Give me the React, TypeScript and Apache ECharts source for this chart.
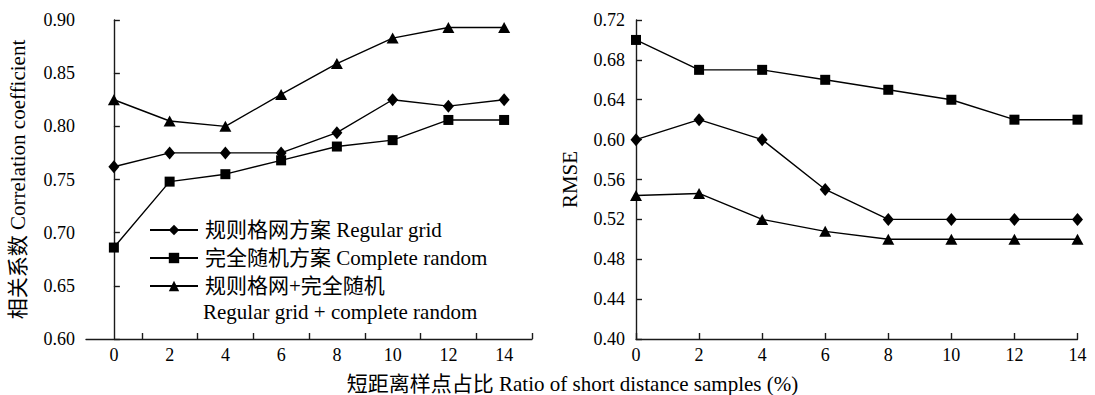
import React, { useEffect, useRef } from "react";
import * as echarts from "echarts";

const FONT = "'Liberation Serif', 'Times New Roman', 'Noto Sans CJK SC', serif";

const ratioValues = [0, 2, 4, 6, 8, 10, 12, 14];
const leftTickValues = [1, 3, 5, 7, 9, 11, 13, 15];

const seriesNames = ["规则格网方案 Regular grid", "完全随机方案 Complete random", "规则格网+完全随机"];
const thirdSeriesSecondLine = "Regular grid + complete random";

const corrRegular = [0.762, 0.775, 0.775, 0.775, 0.794, 0.825, 0.819, 0.825];
const corrRandom = [0.686, 0.748, 0.755, 0.768, 0.781, 0.787, 0.806, 0.806];
const corrCombined = [0.825, 0.805, 0.800, 0.830, 0.859, 0.883, 0.893, 0.893];

const rmseRegular = [0.6, 0.62, 0.6, 0.55, 0.52, 0.52, 0.52, 0.52];
const rmseRandom = [0.7, 0.67, 0.67, 0.66, 0.65, 0.64, 0.62, 0.62];
const rmseCombined = [0.544, 0.546, 0.52, 0.508, 0.5, 0.5, 0.5, 0.5];

const leftYTitle = "相关系数 Correlation coefficient";
const rightYTitle = "RMSE";
const xTitle = "短距离样点占比 Ratio of short distance samples (%)";

const symbols: [string, any][] = [
  ["diamond", [11, 13]],
  ["rect", 10],
  ["triangle", [12, 11]],
];

export default function App() {
  const ref = useRef<HTMLDivElement>(null);
  useEffect(() => {
    if (!ref.current) return;
    const chart = echarts.init(ref.current, null, { renderer: "svg" });
    const axisLine = { lineStyle: { color: "#1a1a1a", width: 1.4 } };
    const label = { color: "#000", fontFamily: FONT, fontSize: 18 };
    const titleStyle = { color: "#000", fontFamily: FONT, fontSize: 21 };
    const pair = (xs: number[], ys: number[]) => xs.map((x, i) => [x, ys[i]]);
    const mk = (name: string, data: number[], idx: number, k: number) => ({
      type: "line",
      name,
      xAxisIndex: idx,
      yAxisIndex: idx,
      data: pair(ratioValues, data),
      symbol: symbols[k][0],
      symbolSize: symbols[k][1],
      showSymbol: true,
      lineStyle: { color: "#000", width: 1.4 },
      itemStyle: { color: "#000" },
      emphasis: { disabled: true },
    });
    chart.setOption({
      animation: false,
      backgroundColor: "#fff",
      textStyle: { fontFamily: FONT },
      grid: [
        { left: 86, top: 20, width: 446, height: 319 },
        { left: 636, top: 20, width: 441.5, height: 319 },
      ],
      legend: {
        orient: "vertical",
        left: 144,
        top: 213,
        itemWidth: 48,
        itemHeight: 13,
        itemGap: 4,
        data: seriesNames,
        textStyle: { color: "#000", fontFamily: FONT, fontSize: 21, lineHeight: 24, padding: [0, 0, 0, 2] },
        selectedMode: false,
      },
      xAxis: [
        {
          type: "value",
          gridIndex: 0,
          min: -1,
          max: 15,
          interval: 1,
          splitLine: { show: false },
          axisLine,
          axisTick: { inside: true, length: 6, lineStyle: { color: "#1a1a1a", width: 1.4 }, customValues: leftTickValues },
          axisLabel: { ...label, margin: 7, customValues: ratioValues },
        },
        {
          type: "value",
          gridIndex: 1,
          min: 0,
          max: 14,
          interval: 2,
          splitLine: { show: false },
          axisLine,
          axisTick: { inside: true, length: 6, lineStyle: { color: "#1a1a1a", width: 1.4 } },
          axisLabel: { ...label, margin: 7 },
        },
      ],
      yAxis: [
        {
          type: "value",
          gridIndex: 0,
          min: 0.6,
          max: 0.9,
          interval: 0.05,
          splitLine: { show: false },
          axisLine: { show: true, ...axisLine },
          axisTick: { show: true, inside: true, length: 6, lineStyle: { color: "#1a1a1a", width: 1.4 } },
          axisLabel: { ...label, margin: 11, formatter: (v: number) => v.toFixed(2) },
          name: leftYTitle,
          nameLocation: "middle",
          nameRotate: 90,
          nameGap: 57.5,
          nameTextStyle: titleStyle,
        },
        {
          type: "value",
          gridIndex: 1,
          min: 0.4,
          max: 0.72,
          interval: 0.04,
          splitLine: { show: false },
          axisLine: { show: true, ...axisLine },
          axisTick: { show: true, inside: true, length: 6, lineStyle: { color: "#1a1a1a", width: 1.4 } },
          axisLabel: { ...label, margin: 11, formatter: (v: number) => v.toFixed(2) },
          name: rightYTitle,
          nameLocation: "middle",
          nameRotate: 90,
          nameGap: 55.5,
          nameTextStyle: titleStyle,
        },
      ],
      graphic: [
        {
          type: "text",
          x: 203,
          y: 312,
          style: { text: thirdSeriesSecondLine, fill: "#000", font: `21px ${FONT}`, verticalAlign: "middle" },
        },
        {
          type: "text",
          x: 572.5,
          y: 384,
          style: { text: xTitle, fill: "#000", font: `21px ${FONT}`, align: "center", verticalAlign: "middle" },
        },
      ],
      series: [
        mk(seriesNames[0], corrRegular, 0, 0),
        mk(seriesNames[1], corrRandom, 0, 1),
        mk(seriesNames[2], corrCombined, 0, 2),
        mk(seriesNames[0], rmseRegular, 1, 0),
        mk(seriesNames[1], rmseRandom, 1, 1),
        mk(seriesNames[2], rmseCombined, 1, 2),
      ],
    });
    return () => chart.dispose();
  }, []);
  return <div ref={ref} style={{ position: "fixed", left: 0, top: 0, width: 1095, height: 395 }} />;
}
